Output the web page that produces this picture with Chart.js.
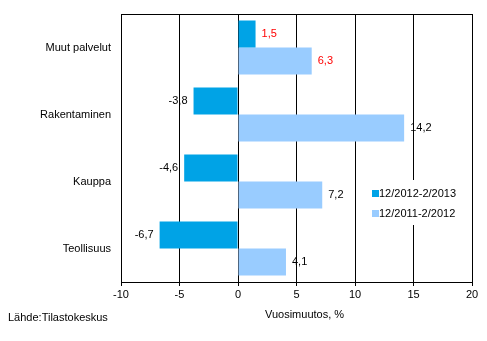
<!DOCTYPE html>
<html><head><meta charset="utf-8">
<script src="https://cdn.jsdelivr.net/npm/chart.js@4/dist/chart.umd.min.js"></script>
<style>html,body{margin:0;padding:0;background:#fff}#wrap{width:487px;height:341px}</style>
</head><body><div id="wrap"><canvas id="c" width="487" height="341"></canvas></div>
<script>
const categories = ["Muut palvelut", "Rakentaminen", "Kauppa", "Teollisuus"];
const series2013 = [1.5, -3.8, -4.6, -6.7];
const series2012 = [6.3, 14.2, 7.2, 4.1];
const seriesNames = ["12/2012-2/2013", "12/2011-2/2012"];
const labelColors = ["#FF0000", "#000000", "#000000", "#000000"];
const xTicks = [-10, -5, 0, 5, 10, 15, 20];
const colors = ["#00A3E6", "#99CCFF"];
const FONT = "Liberation Sans, Arial, sans-serif";

const extras = {
  id: 'extras',
  afterDatasetsDraw(chart) {
    const ctx = chart.ctx, a = chart.chartArea;
    ctx.save();
    ctx.strokeStyle = '#000'; ctx.lineWidth = 1;
    ctx.strokeRect(Math.round(a.left)+0.5, Math.round(a.top)+0.5, Math.round(a.right-a.left), Math.round(a.bottom-a.top));
    ctx.font = '11px ' + FONT;
    ctx.textBaseline = 'middle';
    chart.data.datasets.forEach((ds, di) => {
      const meta = chart.getDatasetMeta(di);
      meta.data.forEach((bar, i) => {
        const v = ds.data[i];
        const txt = v.toFixed(1).replace('.', ',');
        ctx.fillStyle = labelColors[i];
        if (v >= 0) { ctx.textAlign = 'left'; ctx.fillText(txt, bar.x + 6, bar.y); }
        else { ctx.textAlign = 'right'; ctx.fillText(txt, bar.x - 6, bar.y); }
      });
    });
    ctx.fillStyle = '#fff';
    ctx.fillRect(366, 180, 104, 45);
    ctx.textAlign = 'left';
    seriesNames.forEach((n, i) => {
      const y = 194 + i * 20;
      ctx.fillStyle = colors[i];
      ctx.fillRect(372, y - 4, 7, 7);
      ctx.fillStyle = '#000';
      ctx.fillText(n, 379, y);
    });
    ctx.textAlign = 'left';
    ctx.fillText('Vuosimuutos, %', 265, 315);
    ctx.fillText('Lähde:Tilastokeskus', 8, 318);
    ctx.restore();
  }
};

new Chart(document.getElementById('c'), {
  type: 'bar',
  data: {
    labels: categories,
    datasets: [
      { label: seriesNames[0], data: series2013, backgroundColor: colors[0] },
      { label: seriesNames[1], data: series2012, backgroundColor: colors[1] }
    ]
  },
  options: {
    indexAxis: 'y',
    responsive: false,
    animation: false,
    devicePixelRatio: 1,
    layout: { padding: { top: 14, right: 15, left: 0, bottom: 0 } },
    datasets: { bar: { categoryPercentage: 0.806, barPercentage: 1.0 } },
    plugins: { legend: { display: false }, tooltip: { enabled: false } },
    scales: {
      x: {
        min: -10, max: 20,
        afterBuildTicks(s) { s.ticks = xTicks.map(v => ({ value: v })); },
        afterFit(s) { s.height = 59; },
        grid: { color: '#000', lineWidth: 1, tickLength: 4, drawTicks: true },
        border: { color: '#000' },
        ticks: { color: '#000', font: { family: FONT, size: 11 }, padding: 2, maxRotation: 0 }
      },
      y: {
        afterFit(s) { s.width = 121; },
        grid: { display: false },
        border: { color: '#000' },
        ticks: { color: '#000', font: { family: FONT, size: 11 }, padding: 2 }
      }
    }
  },
  plugins: [extras]
});
</script></body></html>
